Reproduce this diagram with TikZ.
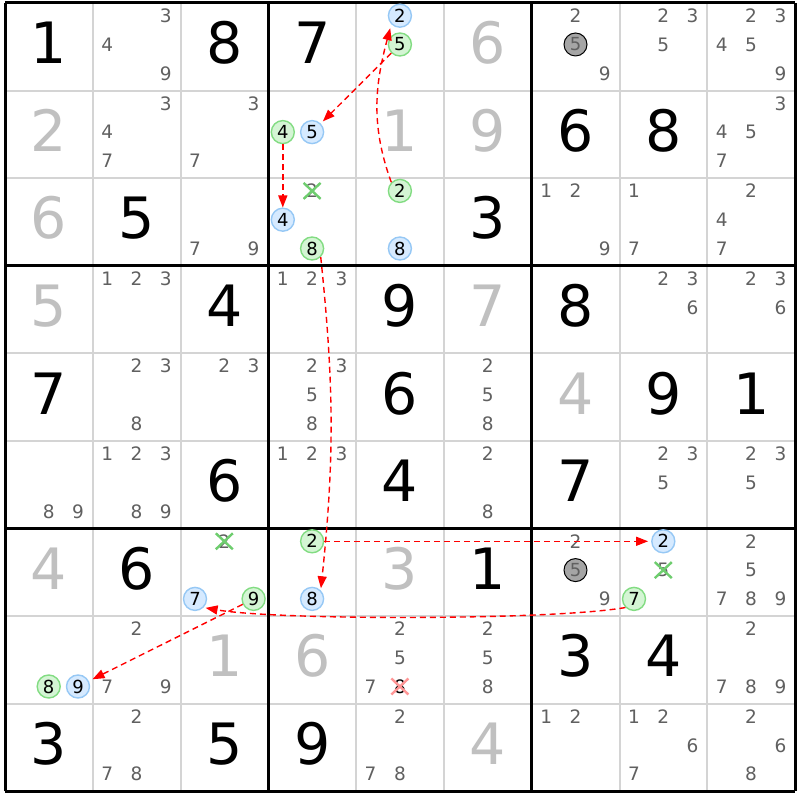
\documentclass[tikz,border=0pt]{standalone}
\usepackage{fontspec}
\setmainfont{DejaVu Sans}
\usetikzlibrary{arrows.meta}
\definecolor{candgray}{RGB}{96,96,96}
\definecolor{givengray}{RGB}{192,192,192}
\definecolor{gridgray}{RGB}{212,212,212}
\definecolor{bluefill}{RGB}{214,234,255}
\definecolor{blueline}{RGB}{150,200,245}
\definecolor{greenfill}{RGB}{212,245,212}
\definecolor{greenline}{RGB}{130,220,130}
\definecolor{xgreen}{RGB}{110,205,110}
\definecolor{xred}{RGB}{255,150,150}
\definecolor{arrred}{RGB}{255,0,0}
\definecolor{solvgray}{RGB}{165,165,165}

\newcommand\candpos[3]{\pgfmathsetmacro\px{5+(#2-1)*87.8+14.4+mod(#3-1,3)*29.3}\pgfmathsetmacro\py{800-(3+(#1-1)*87.6+12.7+floor((#3-1)/3)*28.8)}}
\newcommand\cellpos[2]{\pgfmathsetmacro\px{5+(#2-1)*87.8+43.9}\pgfmathsetmacro\py{800-(3+(#1-1)*87.6+40)}}
\newcommand\cands[3]{\foreach \d in {#3}{\candpos{#1}{#2}{\d}\node[cand] (n-#1-#2-\d) at (\px,\py) {\d};}}
\newcommand\bigd[4]{\cellpos{#2}{#3}\node[#1] (v-#2-#3) at (\px,\py) {#4};}
\newcommand\hcand[4]{\candpos{#2}{#3}{#4}\node[#1] (h-#2-#3-#4) at (\px,\py) {#4};}
\newcommand\xcand[5]{\candpos{#3}{#4}{#5}\node[#1] (x-#3-#4-#5) at (\px,\py) {#5};
 \draw[xmk,#2] ({\px-8.5},{\py-8}) -- ({\px+8.5},{\py+8}) ({\px-8.5},{\py+8}) -- ({\px+8.5},{\py-8});}

\tikzset{
 cand/.style={inner sep=0pt, text=candgray, font=\fontsize{18.5}{20}\selectfont},
 given/.style={inner sep=0pt, text=givengray, font=\fontsize{57}{60}\selectfont},
 solved/.style={inner sep=0pt, text=black, font=\fontsize{57}{60}\selectfont},
 hbase/.style={circle, line width=1.4pt, minimum size=23pt, inner sep=0pt, text=black, font=\fontsize{18}{20}\selectfont},
 bluec/.style={hbase, draw=blueline, fill=bluefill},
 greenc/.style={hbase, draw=greenline, fill=greenfill},
 grayc/.style={hbase, draw=black, line width=1pt, fill=solvgray, text=candgray},
 blackcand/.style={cand, text=black},
 xmk/.style={line width=2.4pt},
 thingrid/.style={draw=gridgray, line width=2pt},
 thickgrid/.style={draw=black, line width=3pt},
 arr/.style={draw=arrred, line width=1.4pt, dash pattern=on 6pt off 4pt, -{Triangle[length=12pt,width=9pt]}},
}

\begin{document}
\begin{tikzpicture}[x=1pt,y=1pt]
\fill[white] (0,0) rectangle (800,800);
\useasboundingbox (0,0) rectangle (800,800);
% grid
\foreach \i in {0,...,9}{
 \draw[thingrid] ({5+\i*87.8},8.6) -- ({5+\i*87.8},797);
 \draw[thingrid] (5,{797-\i*87.6}) -- (795.2,{797-\i*87.6});
}
\foreach \i in {0,3,6,9}{
 \draw[thickgrid] ({5+\i*87.8},8.6) -- ({5+\i*87.8},797);
 \draw[thickgrid] (5,{797-\i*87.6}) -- (795.2,{797-\i*87.6});
}
% big digits
\bigd{solved}{1}{1}{1}\bigd{solved}{1}{3}{8}\bigd{solved}{1}{4}{7}\bigd{given}{1}{6}{6}
\bigd{given}{2}{1}{2}\bigd{given}{2}{5}{1}\bigd{given}{2}{6}{9}\bigd{solved}{2}{7}{6}\bigd{solved}{2}{8}{8}
\bigd{given}{3}{1}{6}\bigd{solved}{3}{2}{5}\bigd{solved}{3}{6}{3}
\bigd{given}{4}{1}{5}\bigd{solved}{4}{3}{4}\bigd{solved}{4}{5}{9}\bigd{given}{4}{6}{7}\bigd{solved}{4}{7}{8}
\bigd{solved}{5}{1}{7}\bigd{solved}{5}{5}{6}\bigd{given}{5}{7}{4}\bigd{solved}{5}{8}{9}\bigd{solved}{5}{9}{1}
\bigd{solved}{6}{3}{6}\bigd{solved}{6}{5}{4}\bigd{solved}{6}{7}{7}
\bigd{given}{7}{1}{4}\bigd{solved}{7}{2}{6}\bigd{given}{7}{5}{3}\bigd{solved}{7}{6}{1}
\bigd{given}{8}{3}{1}\bigd{given}{8}{4}{6}\bigd{solved}{8}{7}{3}\bigd{solved}{8}{8}{4}
\bigd{solved}{9}{1}{3}\bigd{solved}{9}{3}{5}\bigd{solved}{9}{4}{9}\bigd{given}{9}{6}{4}
% candidates
\cands{1}{2}{3,4,9}
\hcand{bluec}{1}{5}{2}\hcand{greenc}{1}{5}{5}
\cands{1}{7}{2,9}\hcand{grayc}{1}{7}{5}
\cands{1}{8}{2,3,5}
\cands{1}{9}{2,3,4,5,9}
\cands{2}{2}{3,4,7}
\cands{2}{3}{3,7}
\hcand{greenc}{2}{4}{4}\hcand{bluec}{2}{4}{5}
\cands{2}{9}{3,4,5,7}
\cands{3}{3}{7,9}
\xcand{cand}{xgreen}{3}{4}{2}\hcand{bluec}{3}{4}{4}\hcand{greenc}{3}{4}{8}
\hcand{greenc}{3}{5}{2}\hcand{bluec}{3}{5}{8}
\cands{3}{7}{1,2,9}
\cands{3}{8}{1,7}
\cands{3}{9}{2,4,7}
\cands{4}{2}{1,2,3}
\cands{4}{4}{1,2,3}
\cands{4}{8}{2,3,6}
\cands{4}{9}{2,3,6}
\cands{5}{2}{2,3,8}
\cands{5}{3}{2,3}
\cands{5}{4}{2,3,5,8}
\cands{5}{6}{2,5,8}
\cands{6}{1}{8,9}
\cands{6}{2}{1,2,3,8,9}
\cands{6}{4}{1,2,3}
\cands{6}{6}{2,8}
\cands{6}{8}{2,3,5}
\cands{6}{9}{2,3,5}
\xcand{cand}{xgreen}{7}{3}{2}\hcand{bluec}{7}{3}{7}\hcand{greenc}{7}{3}{9}
\hcand{greenc}{7}{4}{2}\hcand{bluec}{7}{4}{8}
\cands{7}{7}{2,9}\hcand{grayc}{7}{7}{5}
\hcand{bluec}{7}{8}{2}\xcand{cand}{xgreen}{7}{8}{5}\hcand{greenc}{7}{8}{7}
\cands{7}{9}{2,5,7,8,9}
\hcand{greenc}{8}{1}{8}\hcand{bluec}{8}{1}{9}
\cands{8}{2}{2,7,9}
\cands{8}{5}{2,5,7}\xcand{blackcand}{xred}{8}{5}{8}
\cands{8}{6}{2,5,8}
\cands{8}{9}{2,7,8,9}
\cands{9}{2}{2,7,8}
\cands{9}{5}{2,7,8}
\cands{9}{7}{1,2}
\cands{9}{8}{1,2,6,7}
\cands{9}{9}{2,6,8}
% chain arrows
\draw[arr, shorten >=3pt] (h-1-5-5) -- (h-2-4-5);
\draw[arr, shorten >=4pt] (h-3-5-2.135) to[out=110,in=-105] (h-1-5-2.225);
\draw[arr] (h-2-4-4) -- (h-3-4-4);
\draw[arr, shorten >=2pt] (h-3-4-8.315) to[out=-84,in=84] (h-7-4-8.45);
\draw[arr, shorten >=3pt] (h-7-4-2.east) -- (h-7-8-2.west);
\draw[arr, shorten >=2pt] (h-7-8-7.225) to[out=190,in=-10,looseness=0.45] (h-7-3-7.315);
\draw[arr, shorten >=4pt] (h-7-3-9) -- (h-8-1-9);
\end{tikzpicture}
\end{document}
